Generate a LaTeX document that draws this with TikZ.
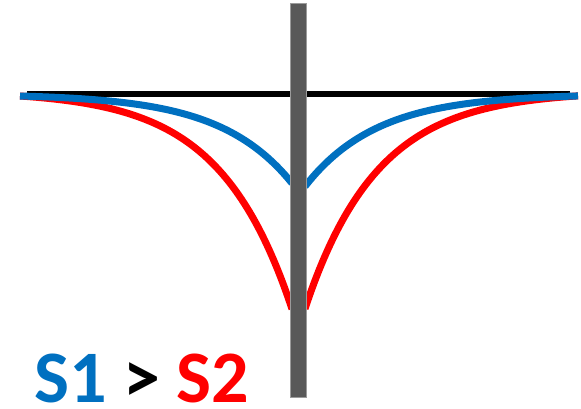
\documentclass[tikz,border=0pt]{standalone}
\usepackage{fontspec}
\setmainfont{Carlito}
\definecolor{sblue}{HTML}{0070C0}
\definecolor{sred}{HTML}{FF0000}
\definecolor{bargray}{HTML}{595959}
\begin{document}
\begin{tikzpicture}[x=1pt,y=-1pt,
    curve/.style={line width=7pt,samples=120,smooth},
    bar/.style={fill=bargray,draw=bargray!60,line width=0.6pt}]
    \useasboundingbox (0,0) rectangle (581,409);
    \draw[line width=6.5pt] (27,94) -- (570,94);
    % S2
    \draw[curve,sred] plot[domain=20:292] (\x,{96+237*(exp(-(298-\x)/72)-0.021)});
    \draw[curve,sred] plot[domain=305:578] (\x,{96+240*(exp(-(\x-298)/72)-0.021)});
    % S1
    \draw[curve,sblue] plot[domain=20:292] (\x,{96+97*(exp(-(298-\x)/72)-0.021)});
    \draw[curve,sblue] plot[domain=305:578] (\x,{96+102*(exp(-(\x-298)/72)-0.021)});
    \draw[bar] (290,3) rectangle (306,397);
    \node[anchor=base west,inner sep=0pt,font=\fontsize{74}{74}\selectfont\bfseries]
      (label) at (34,402) {\textcolor{sblue}{S1} > \textcolor{sred}{S2}};
  \end{tikzpicture}
\end{document}
